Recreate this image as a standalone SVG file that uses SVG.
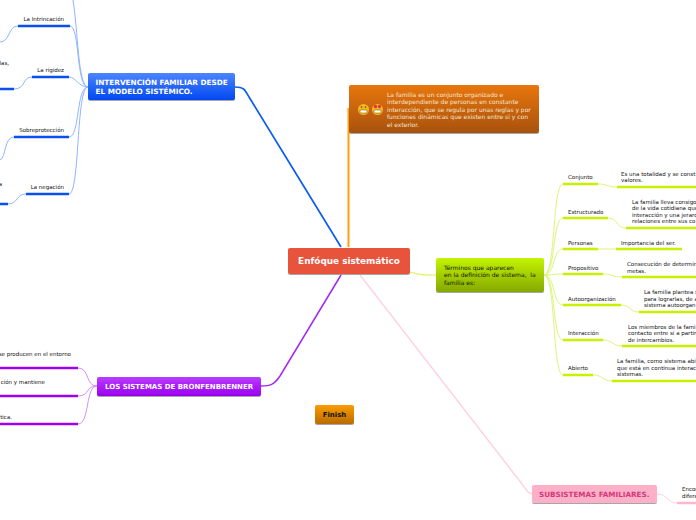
<svg xmlns="http://www.w3.org/2000/svg" width="696" height="520" viewBox="0 0 696 520">
<style>
text{font-family:"DejaVu Sans",Verdana,sans-serif}
.t{font-size:5.5px;fill:#111}
.e{text-anchor:end}
.b{font-size:7.300px;font-weight:bold;fill:#fff}
.bl1{stroke:#8fb4ff;stroke-width:1}
.bl2{stroke:#0a50f0;stroke-width:2.500}
.g1{stroke:#dcf57a;stroke-width:1}
.g2{stroke:#c8f000;stroke-width:2.500}
.p1{stroke:#d490ff;stroke-width:1}
.p2{stroke:#a000f0;stroke-width:2.500}
.k1{stroke:#ffd3e2;stroke-width:1}
.k2{stroke:#ffb6cf;stroke-width:2.500}
</style>
<defs>
<linearGradient id="gb" x1="0" y1="0" x2="0" y2="1"><stop offset="0" stop-color="#4d85ff"/><stop offset="1" stop-color="#0048f0"/></linearGradient>
<linearGradient id="go" x1="0" y1="0" x2="0" y2="1"><stop offset="0" stop-color="#e8760c"/><stop offset="1" stop-color="#a85208"/></linearGradient>
<linearGradient id="gg" x1="0" y1="0" x2="0" y2="1"><stop offset="0" stop-color="#c4f500"/><stop offset="1" stop-color="#84a800"/></linearGradient>
<linearGradient id="gp" x1="0" y1="0" x2="0" y2="1"><stop offset="0" stop-color="#b83cff"/><stop offset="1" stop-color="#9a00ee"/></linearGradient>
<linearGradient id="gf" x1="0" y1="0" x2="0" y2="1"><stop offset="0" stop-color="#fc9c04"/><stop offset="1" stop-color="#b86c04"/></linearGradient>
<filter id="s" x="-5%" y="-10%" width="110%" height="130%"><feDropShadow dx="0" dy="1" stdDeviation="0.7" flood-color="#000" flood-opacity="0.35"/></filter>
</defs>
<g id="connectors" fill="none">
<path d="M235 87C244 87 245 90 249 97L341 247" stroke="#0a5cf5" stroke-width="1.700"/>
<path d="M348.500 247V108" stroke="#ff9f10" stroke-width="2"/>
<path d="M341 275L280 376C274 385 270 386 261 386" stroke="#a428f5" stroke-width="1.500"/>
<path d="M360 275L522 484C527 491 528 493 532 494" stroke="#ffd3e2" stroke-width="1.500"/>
<path d="M410 272C420 275 425 275 436 275" stroke="#d8f550" stroke-width="1.200"/>
<path class="bl1" d="M73 0C78 30 78 87 88 87M70 26C80 26 76 87 88 87M69 77C76 77 78 87 88 87M69 137C80 137 76 87 88 87M69 194C80 194 76 87 88 87"/>
<path class="bl1" d="M18 26C8 26 10 42 0 42M32 77C22 77 26 89 14 89M14 137C4 137 6 158 0 160M26 194C16 194 18 204 8 204"/>
<path class="bl2" d="M18 26H70M32 77H69M14 137H69M26 194H69M0 89H14M0 204H8"/>
<path class="g1" d="M544 275C556 275 552 184 563 184M544 275C556 275 552 218 563 218M544 275C556 275 552 249 563 249M544 275C553 275 553 274 563 274M544 275C556 275 552 305 563 305M544 275C556 275 552 340 563 340M544 275C556 275 552 375 563 375"/>
<path class="g1" d="M598 184C608 184 607 187 617 187M608 218C618 218 616 228 626 228M598 249H616M603 274C613 274 612 277 622 277M621 305C631 305 629 312 639 312M603 340C613 340 612 346 622 346M593 375C603 375 602 381 612 381"/>
<path class="g2" d="M563 184H598M617 187H696M563 218H608M626 228H696M563 249H598M616 249H682M563 274H603M622 277H696M563 305H621M639 312H696M563 340H603M622 346H696M563 375H593M612 381H696"/>
<path class="p1" d="M78 368C90 368 85 386 97 386M78 396C90 396 85 386 97 386M78 424C90 424 85 386 97 386"/>
<path class="p2" d="M0 368H78M0 396H78M0 424H78"/>
<path class="k1" d="M657 494C668 494 667 503 677 503"/>
<path class="k2" d="M677 503H696"/>
</g>
<g id="root"><rect x="288" y="248" width="122" height="26" rx="2" fill="#e8533a" filter="url(#s)"/><text x="349" y="264" text-anchor="middle" font-size="8.900" font-weight="bold" fill="#fff">Enfóque sistemático</text></g>
<g id="intervencion"><rect x="88" y="73" width="147" height="27" rx="2" fill="url(#gb)" filter="url(#s)"/><text class="b" x="95.500" y="85">INTERVENCIÓN FAMILIAR DESDE</text><text class="b" x="95.500" y="94">EL MODELO SISTÉMICO.</text></g>
<g id="definicion"><rect x="349" y="85" width="190" height="48" rx="2" fill="url(#go)" filter="url(#s)"/>
<circle cx="363.500" cy="109.500" r="5.500" fill="#f5b81c"/><rect x="360" y="110" width="7" height="3" rx="1" fill="#fff" stroke="#6a4a10" stroke-width=".5"/><circle cx="361.500" cy="107" r=".8" fill="#5a3a10"/><circle cx="365.500" cy="107" r=".8" fill="#5a3a10"/>
<circle cx="377.500" cy="109.500" r="5.500" fill="#f5b81c"/><rect x="374" y="110" width="7" height="3" rx="1" fill="#fff" stroke="#6a4a10" stroke-width=".5"/><circle cx="375.500" cy="106.500" r="1.700" fill="#e8323c"/><circle cx="379.500" cy="106.500" r="1.700" fill="#e8323c"/>
<g font-size="6" fill="#f5e6d2"><text x="387" y="97">La familia es un conjunto organizado e</text><text x="387" y="104">interdependiente de personas en constante</text><text x="387" y="112">interacción, que se regula por unas reglas y por</text><text x="387" y="119">funciones dinámicas que existen entre sí y con</text><text x="387" y="127">el exterior.</text></g></g>
<g id="terminos"><rect x="436" y="258" width="108" height="34" rx="2" fill="url(#gg)" filter="url(#s)"/><g font-size="6" fill="#111"><text x="444" y="270">Términos que aparecen</text><text x="444" y="277" xml:space="preserve">en la definición de sistema,  la</text><text x="444" y="285">familia es:</text></g></g>
<g id="bronfenbrenner"><rect x="97" y="377" width="164" height="19" rx="2" fill="url(#gp)" filter="url(#s)"/><text x="105" y="389" font-size="7" font-weight="bold" fill="#fff">LOS SISTEMAS DE BRONFENBRENNER</text></g>
<g id="finish"><rect x="315" y="405" width="39" height="19" rx="2" fill="url(#gf)" filter="url(#s)"/><text x="334.500" y="417" text-anchor="middle" font-size="7" font-weight="bold" fill="#111">Finish</text></g>
<g id="subsistemas"><rect x="532" y="485" width="125" height="18" rx="2" fill="#ffb0c9" filter="url(#s)"/><text x="539" y="497" font-size="7.200" font-weight="bold" fill="#d03a78">SUBSISTEMAS FAMILIARES.</text></g>
<g id="labels-left">
<text class="t e" x="64" y="21">La Intrincación</text>
<text class="t e" x="64" y="72">La rigidez</text>
<text class="t e" x="64" y="132">Sobreprotección</text>
<text class="t e" x="64" y="189">La negación</text>
<text class="t e" x="9" y="65">las,</text>
<text class="t e" x="2" y="186">a</text>
<text class="t e" x="71" y="356">se producen en el entorno</text>
<text class="t e" x="45" y="384">ción y mantiene</text>
<text class="t e" x="12" y="419">tica.</text>
</g>
<g id="labels-right">
<text class="t" x="568" y="179">Conjunto</text>
<text class="t" x="568" y="214">Estructurado</text>
<text class="t" x="568" y="245">Personas</text>
<text class="t" x="568" y="270">Propositivo</text>
<text class="t" x="568" y="301">Autoorganización</text>
<text class="t" x="568" y="335">Interacción</text>
<text class="t" x="568" y="370">Abierto</text>
<text class="t" x="621" y="176">Es una totalidad y se const</text><text class="t" x="621" y="182">valores.</text>
<text class="t" x="632" y="204">La familia lleva consigo</text><text class="t" x="632" y="210">de la vida cotidiana que</text><text class="t" x="632" y="217">interacción y una jerarc</text><text class="t" x="632" y="223">relaciones entre sus co</text>
<text class="t" x="621" y="245">Importancia del ser.</text>
<text class="t" x="627" y="266">Consecución de determin</text><text class="t" x="627" y="273">metas.</text>
<text class="t" x="644" y="294">La familia plantea s</text><text class="t" x="644" y="301">para lograrlas, de a</text><text class="t" x="644" y="307">sistema autoorgan</text>
<text class="t" x="628" y="329">Los miembros de la fami</text><text class="t" x="628" y="335">contacto entre sí a partir</text><text class="t" x="628" y="342">de intercambios.</text>
<text class="t" x="617" y="363">La familia, como sistema abi</text><text class="t" x="617" y="370">que está en continua interac</text><text class="t" x="617" y="376">sistemas.</text>
<text class="t" x="682" y="491">Encon</text><text class="t" x="682" y="498">difere</text>
</g>
</svg>
